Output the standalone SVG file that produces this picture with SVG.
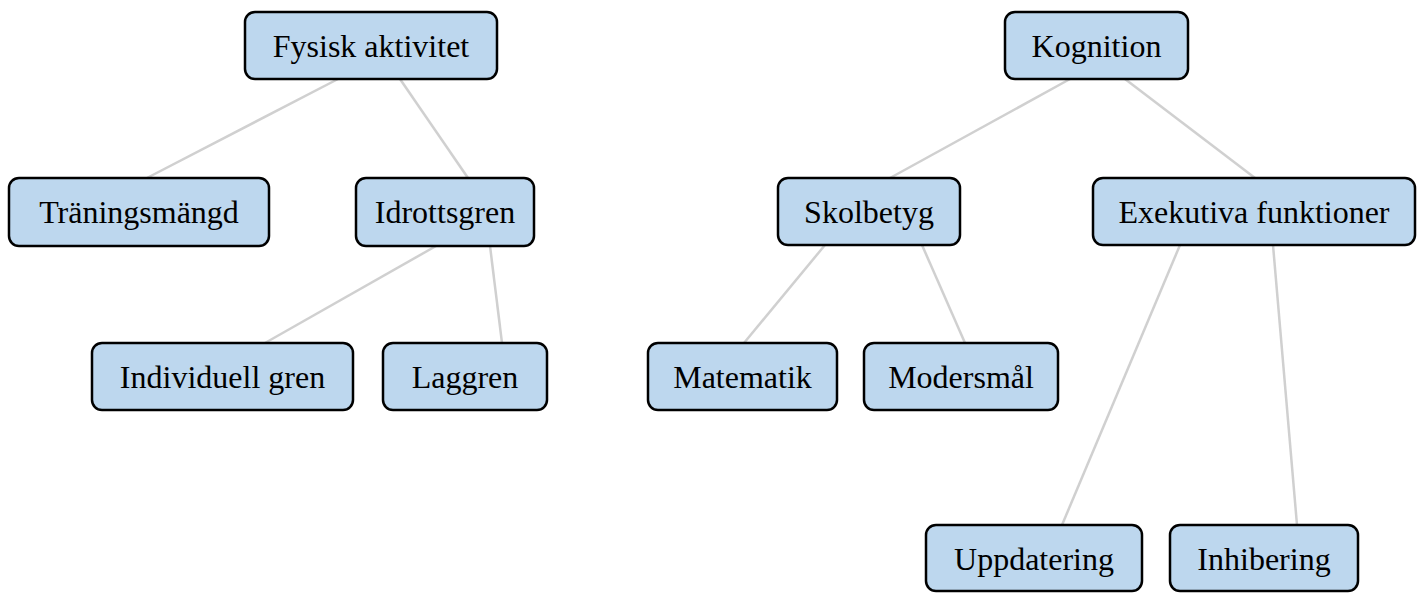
<svg xmlns="http://www.w3.org/2000/svg" width="1425" height="593" viewBox="0 0 1425 593">
<style>
.box{fill:#BDD7EE;stroke:#000;stroke-width:2.5}
.lbl{font-family:"Liberation Serif","Times New Roman",serif;font-size:32px;fill:#000;text-anchor:middle}
.edge{stroke:#D0D0D0;stroke-width:2.5;fill:none}
</style>
<rect width="1425" height="593" fill="#fff"/>
<g id="connectors">
<line class="edge" x1="338" y1="79" x2="145" y2="179"/>
<line class="edge" x1="400" y1="79" x2="468" y2="178"/>
<line class="edge" x1="436" y1="246" x2="265" y2="343"/>
<line class="edge" x1="490" y1="246" x2="502" y2="343"/>
<line class="edge" x1="1070" y1="79" x2="890" y2="178"/>
<line class="edge" x1="1125" y1="79" x2="1255" y2="178"/>
<line class="edge" x1="825" y1="245" x2="744" y2="343"/>
<line class="edge" x1="922" y1="245" x2="965" y2="343"/>
<line class="edge" x1="1180" y1="245" x2="1062" y2="525"/>
<line class="edge" x1="1273" y1="245" x2="1297" y2="525"/>
</g>
<g id="fysisk-aktivitet"><rect class="box" x="245" y="12" width="252" height="67" rx="10"/><text class="lbl" x="371" y="56.5">Fysisk aktivitet</text></g>
<g id="traningsmangd"><rect class="box" x="9" y="178" width="260" height="68" rx="10"/><text class="lbl" x="139" y="223">Träningsmängd</text></g>
<g id="idrottsgren"><rect class="box" x="356" y="178" width="178" height="68" rx="10"/><text class="lbl" x="445" y="223">Idrottsgren</text></g>
<g id="individuell-gren"><rect class="box" x="92" y="343" width="261" height="67" rx="10"/><text class="lbl" x="222.5" y="388">Individuell gren</text></g>
<g id="laggren"><rect class="box" x="383" y="343" width="164" height="67" rx="10"/><text class="lbl" x="465" y="388">Laggren</text></g>
<g id="kognition"><rect class="box" x="1005" y="12" width="183" height="67" rx="10"/><text class="lbl" x="1096.5" y="56.5">Kognition</text></g>
<g id="skolbetyg"><rect class="box" x="778" y="178" width="182" height="67" rx="10"/><text class="lbl" x="869" y="223">Skolbetyg</text></g>
<g id="exekutiva-funktioner"><rect class="box" x="1093" y="178" width="322" height="67" rx="10"/><text class="lbl" x="1254" y="223">Exekutiva funktioner</text></g>
<g id="matematik"><rect class="box" x="648" y="343" width="189" height="67" rx="10"/><text class="lbl" x="742.5" y="388">Matematik</text></g>
<g id="modersmal"><rect class="box" x="864" y="343" width="194" height="67" rx="10"/><text class="lbl" x="961" y="388">Modersmål</text></g>
<g id="uppdatering"><rect class="box" x="926" y="525" width="216" height="66" rx="10"/><text class="lbl" x="1034" y="570">Uppdatering</text></g>
<g id="inhibering"><rect class="box" x="1170" y="525" width="188" height="66" rx="10"/><text class="lbl" x="1264" y="570">Inhibering</text></g>
</svg>
